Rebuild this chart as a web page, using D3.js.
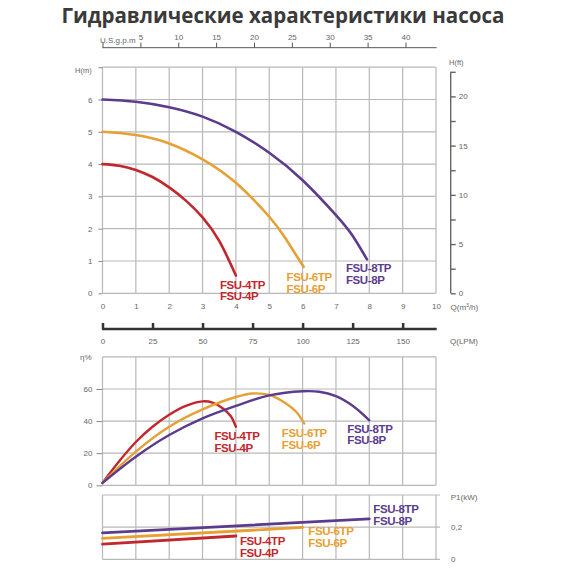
<!DOCTYPE html>
<html>
<head>
<meta charset="utf-8">
<script src="https://cdn.jsdelivr.net/npm/d3@7"></script>
<style>
  body { margin: 0; background: #fff; }
  svg { display: block; }
  text { font-family: "Liberation Sans", Arial, sans-serif; }
</style>
</head>
<body>
<svg width="570" height="570"></svg>
<script>
// title and axis texts
let title = "Гидравлические характеристики насоса";
let qTicks = d3.range(0, 11);           // m3/h
let hTicks = d3.range(0, 8);            // m
let ftTicks = d3.range(0, 23, 2.5);     // ft
let ftLabels = [0, 5, 10, 15, 20];
let gpmTicks = [0, 5, 10, 15, 20, 25, 30, 35, 40];
let lpmTicks = [0, 25, 50, 75, 100, 125, 150];
let effTicks = [0, 20, 40, 60];
let effGrid = [0, 20, 40, 60, 80];
let powTicks = [0, 0.2];
let powGrid = [0, 0.2, 0.4];

// pump models
let models = ["FSU-4", "FSU-6", "FSU-8"];
let modelColors = ["#c1272d", "#e6a034", "#5b3c8c"];

// H(Q) curves, m vs m3/h
let hq4 = [0, 0.5, 1, 1.5, 2, 2.5, 3, 3.5, 4];
let h4 = [4, 3.95, 3.82, 3.6, 3.28, 2.87, 2.35, 1.62, 0.55];
let hq6 = [0, 1, 2, 3, 4, 5, 5.5, 6.03];
let h6 = [5, 4.9, 4.64, 4.15, 3.42, 2.37, 1.68, 0.82];
let hq8 = [0, 1, 2, 3, 4, 5, 6, 7, 7.5, 7.93];
let h8 = [6, 5.93, 5.76, 5.47, 5.0, 4.35, 3.5, 2.42, 1.78, 1.05];

// efficiency curves, %
let eq4 = [0, 0.5, 1, 1.5, 2, 2.5, 3, 3.3, 3.6, 3.85, 4];
let e4 = [1.5, 15, 27, 36.5, 44, 49.5, 52.3, 51.5, 48, 43, 36.5];
let eq6 = [0, 1, 2, 3, 4, 4.5, 5, 5.5, 5.8, 6.05];
let e6 = [1.5, 21, 36.5, 47.3, 55, 57.2, 56.3, 51, 46, 38.5];
let eq8 = [0, 1, 2, 3, 4, 5, 6, 6.5, 7, 7.5, 8];
let e8 = [1.5, 17.8, 31.3, 41.7, 49.5, 56, 58.6, 58.3, 55.5, 49.5, 40.5];

// input power, kW
let pq4 = [0, 4];
let p4 = [0.095, 0.145];
let pq6 = [0, 6];
let p6 = [0.13, 0.198];
let pq8 = [0, 8];
let p8 = [0.165, 0.251];

let zip = (qs, vs) => qs.map((q, i) => [q, vs[i]]);
let hCurves = [zip(hq4, h4), zip(hq6, h6), zip(hq8, h8)];
let eCurves = [zip(eq4, e4), zip(eq6, e6), zip(eq8, e8)];
let pCurves = [zip(pq4, p4), zip(pq6, p6), zip(pq8, p8)];

let svg = d3.select('svg');

// scales
let x = d3.scaleLinear().domain([0, 10]).range([102.5, 436]);
let yH = d3.scaleLinear().domain([0, 7]).range([293.3, 67.2]);
let yFt = d3.scaleLinear().domain([0, 7 / 0.3048]).range([293.3, 67.2]);
let xGpm = d3.scaleLinear().domain([0, 10 / 0.227125]).range([102.5, 436]);
let xLpm = d3.scaleLinear().domain([0, 10 * 1000 / 60]).range([102.5, 436]);
let yE = d3.scaleLinear().domain([0, 80]).range([485.3, 356.9]);
let yP = d3.scaleLinear().domain([0, 0.4]).range([559.3, 495]);

let gridColor = '#b8b8b8';
let labelColor = '#666';

// title
svg.append('text')
  .attr('x', 283).attr('y', 23)
  .attr('text-anchor', 'middle')
  .attr('textLength', 443)
  .attr('lengthAdjust', 'spacingAndGlyphs')
  .style('font-family', '"Open Sans", sans-serif')
  .style('font-weight', 'bold')
  .style('font-size', '22px')
  .style('fill', '#3a3a3a')
  .text(title);

// helper for grids
function grid(yScale, yVals, yTop, yBottom, extraRight) {
  let g = svg.append('g');
  g.selectAll('line.v').data(qTicks).enter().append('line')
    .attr('x1', d => x(d)).attr('x2', d => x(d))
    .attr('y1', yTop).attr('y2', yBottom)
    .style('stroke', gridColor).style('stroke-width', 1.2);
  g.selectAll('line.h').data(yVals).enter().append('line')
    .attr('x1', x(0)).attr('x2', x(10) + extraRight)
    .attr('y1', d => yScale(d)).attr('y2', d => yScale(d))
    .style('stroke', gridColor).style('stroke-width', 1.2);
  return g;
}

function styleAxis(g, size) {
  g.selectAll('text').style('font-size', size || '8px').style('fill', labelColor);
  g.selectAll('line').style('stroke', '#888');
  g.select('.domain').remove();
}

// ---------- top chart: H(Q) ----------
grid(yH, hTicks, yH(7), yH(0), 0);

svg.append('g')
  .attr('transform', `translate(${x(0)},0)`)
  .call(d3.axisLeft(yH).tickValues(hTicks).tickSize(4).tickPadding(6)
    .tickFormat(d => d === 7 ? '' : d))
  .call(styleAxis);

svg.append('text').attr('x', 75).attr('y', 73)
  .style('font-size', '7.5px').style('fill', labelColor).text('H(m)');

// bottom Q labels (m3/h)
svg.append('g')
  .attr('transform', `translate(0,${yH(0)})`)
  .call(d3.axisBottom(x).tickValues(qTicks).tickSize(0).tickPadding(10))
  .call(styleAxis);

let qLab = svg.append('text').attr('x', 450.5).attr('y', 310)
  .style('font-size', '8px').style('fill', labelColor);
qLab.append('tspan').text('Q(m');
qLab.append('tspan').attr('dy', -3).style('font-size', '5px').text('3');
qLab.append('tspan').attr('dy', 3).text('/h)');

// right axis in feet
let ftAxis = svg.append('g')
  .attr('transform', 'translate(450.7,0)')
  .call(d3.axisRight(yFt).tickValues(ftTicks).tickSize(5).tickPadding(3)
    .tickFormat(d => ftLabels.includes(d) ? d : ''));
styleAxis(ftAxis);
ftAxis.selectAll('line').style('stroke', '#666').style('stroke-width', 1.4);
ftAxis.append('line')
  .attr('x1', 0).attr('x2', 0)
  .attr('y1', yFt(22.5)).attr('y2', yFt(0))
  .style('stroke', '#666').style('stroke-width', 1.4);

svg.append('text').attr('x', 449).attr('y', 65)
  .style('font-size', '7.5px').style('fill', labelColor).text('H(ft)');

// US gpm axis on top
let gpmAxis = svg.append('g')
  .attr('transform', 'translate(0,47.7)')
  .call(d3.axisTop(xGpm).tickValues(gpmTicks).tickSize(5).tickPadding(3)
    .tickFormat(d => d === 0 ? '' : d));
styleAxis(gpmAxis);
gpmAxis.selectAll('line').style('stroke', '#555');
gpmAxis.append('line')
  .attr('x1', 102.5).attr('x2', 436.7)
  .style('stroke', '#555').style('stroke-width', 1);
svg.append('text').attr('x', 100).attr('y', 43)
  .style('font-size', '8px').style('fill', labelColor).text('U.S.g.p.m');

// LPM axis
let lpmAxis = svg.append('g')
  .attr('transform', 'translate(0,329)')
  .call(d3.axisBottom(xLpm).tickValues(lpmTicks).tickSize(-6).tickPadding(9));
styleAxis(lpmAxis);
lpmAxis.selectAll('line').style('stroke', '#333').style('stroke-width', 2.5);
lpmAxis.append('line')
  .attr('x1', 102).attr('x2', 436.7)
  .style('stroke', '#333').style('stroke-width', 2.5);
svg.append('text').attr('x', 450).attr('y', 344)
  .style('font-size', '8px').style('fill', labelColor).text('Q(LPM)');

// ---------- middle chart: efficiency ----------
grid(yE, effGrid, yE(80), yE(0), 0);

svg.append('g')
  .attr('transform', `translate(${x(0)},0)`)
  .call(d3.axisLeft(yE).tickValues(effTicks).tickSize(6).tickPadding(4))
  .call(styleAxis);

svg.append('text').attr('x', 80).attr('y', 360)
  .style('font-size', '8px').style('fill', labelColor).text('η%');

// ---------- bottom chart: power ----------
grid(yP, powGrid, yP(0.4), yP(0), 4);

svg.append('g')
  .attr('transform', 'translate(447,0)')
  .call(d3.axisRight(yP).tickValues(powTicks).tickSize(0).tickPadding(4)
    .tickFormat(d => String(d).replace('.', ',')))
  .call(styleAxis);

svg.append('text').attr('x', 450.7).attr('y', 500)
  .style('font-size', '8px').style('fill', labelColor).text('P1(kW)');

// ---------- curves ----------
function drawCurves(curves, yScale, curveType, width) {
  let line = d3.line()
    .x(d => x(d[0]))
    .y(d => yScale(d[1]))
    .curve(curveType);
  svg.append('g').selectAll('path')
    .data(curves).enter().append('path')
    .attr('d', line)
    .style('fill', 'none')
    .style('stroke', (d, i) => modelColors[i])
    .style('stroke-width', width)
    .style('stroke-linecap', 'round');
}

drawCurves(hCurves, yH, d3.curveNatural, 2.6);
drawCurves(eCurves, yE, d3.curveCatmullRom, 2.4);
drawCurves(pCurves, yP, d3.curveLinear, 2.8);

// model labels, placed relative to each curve's end point
function drawLabels(curves, yScale, offsets) {
  curves.forEach((c, i) => {
    let end = c[c.length - 1];
    let px = x(end[0]) + offsets[i][0];
    let py = yScale(end[1]) + offsets[i][1];
    let t = svg.append('text')
      .attr('x', px).attr('y', py)
      .style('font-size', '11.5px')
      .style('font-weight', 'bold')
      .style('letter-spacing', '-0.4px')
      .style('fill', modelColors[i]);
    t.append('tspan').attr('x', px).text(models[i] + 'TP');
    t.append('tspan').attr('x', px).attr('dy', 11.8).text(models[i] + 'P');
  });
}

drawLabels(hCurves, yH, [[-16, 13], [-17, 14], [-21, 13]]);
drawLabels(eCurves, yE, [[-21.5, 13.3], [-22.5, 13.8], [-22, 12.4]]);
drawLabels(pCurves, yP, [[4, 9], [5.7, 7.7], [4, -5.5]]);
</script>
</body>
</html>
